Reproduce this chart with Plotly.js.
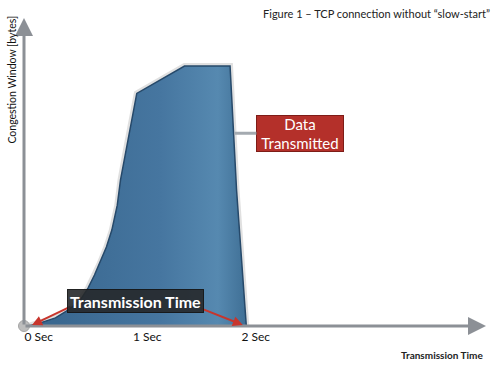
<!DOCTYPE html>
<html>
<head>
<meta charset="utf-8">
<script src="https://cdn.plot.ly/plotly-3.0.1.min.js"></script>
<style>html,body{margin:0;padding:0;background:#fff;}#chart{width:500px;height:366px;}</style>
</head>
<body>
<div id="chart"></div>
<script>
// Data (time in seconds, congestion window in relative units, peak = 100)
var timeSec = [0.04, 0.15, 0.29, 0.42, 0.52, 0.59, 0.65, 0.70, 0.76, 0.81, 0.86, 0.89, 0.94, 0.99, 1.04, 1.48, 1.90, 1.96, 2.05];
var cwnd    = [0,    1.2,  3.1,  6.5,  10,   14.6, 19.6, 24.2, 30.4, 36.9, 46.5, 56.2, 67.7, 79.2, 89.5, 100,  100,  52.3, 0];
var tickVals = [0, 1, 2];
var tickText = ['0 Sec', '1 Sec', '2 Sec'];
var xMax = 4.26, yMax = 118.5;

var shadow = {
  x: timeSec, y: cwnd, type: 'scatter', mode: 'lines', fill: 'none',
  line: {color: 'rgba(0,0,0,0.12)', width: 6}, hoverinfo: 'skip', showlegend: false
};
var area = {
  x: timeSec, y: cwnd, type: 'scatter', mode: 'lines', fill: 'toself',
  fillcolor: '#44739a',
  fillgradient: {type: 'horizontal', start: 0.3, stop: 2.05,
    colorscale: [[0, '#3a6890'], [0.55, '#4676a0'], [0.85, '#5689b0'], [1, '#3f6f95']]},
  line: {color: '#26496a', width: 1.5}, hoverinfo: 'skip', showlegend: false
};
var origin = {
  x: [0], y: [0], type: 'scatter', mode: 'markers', cliponaxis: false,
  marker: {size: 11, color: '#bdbdbd', line: {color: '#a5a5a5', width: 1}},
  hoverinfo: 'skip', showlegend: false
};

var font = 'Lato, "Open Sans", sans-serif';
var layout = {
  width: 500, height: 366,
  margin: {l: 24, r: 14, t: 18, b: 40},
  paper_bgcolor: '#ffffff', plot_bgcolor: '#ffffff',
  showlegend: false,
  title: {text: 'Figure 1 \u2013 TCP connection without \u201cslow-start\u201d',
    x: 0.98, xanchor: 'right', y: 0.962, yanchor: 'middle',
    font: {family: font, size: 11, color: '#222'}},
  xaxis: {range: [0, xMax], showgrid: false, zeroline: false, showline: false,
    tickvals: tickVals, ticktext: tickText, ticks: 'outside', ticklen: 6, tickcolor: 'rgba(0,0,0,0)',
    ticklabelposition: 'outside right',
    tickfont: {family: font, size: 12, color: '#111'}, fixedrange: true},
  yaxis: {range: [0, yMax], showgrid: false, zeroline: false, showline: false,
    showticklabels: false, ticks: '', fixedrange: true},
  annotations: [
    // axes arrows
    {x: xMax, y: 0, ax: 0, ay: 0, axref: 'x', ayref: 'y', xref: 'x', yref: 'y', text: '',
      showarrow: true, arrowhead: 2, arrowsize: 1.2, arrowwidth: 3, arrowcolor: '#8c9096'},
    {x: 0, y: yMax, ax: 0, ay: 0, axref: 'x', ayref: 'y', xref: 'x', yref: 'y', text: '',
      showarrow: true, arrowhead: 2, arrowsize: 1.2, arrowwidth: 3, arrowcolor: '#8c9096'},
    // axis titles
    {xref: 'paper', yref: 'paper', x: -0.026, y: 0.80, xanchor: 'center', yanchor: 'middle',
      text: 'Congestion Window [bytes]',
      textangle: -90, showarrow: false, font: {family: font, size: 10.5, color: '#111'}},
    {xref: 'paper', yref: 'paper', x: 0.998, xanchor: 'right', y: -0.094, yanchor: 'middle',
      text: '<b>Transmission Time</b>', showarrow: false, font: {family: font, size: 10, color: '#222'}},
    // Data Transmitted callout
    {x: 1.94, y: 74.2, ax: 2.544, ay: 74.2, axref: 'x', ayref: 'y', xref: 'x', yref: 'y',
      text: 'Data<br>Transmitted', showarrow: true, arrowhead: 0, arrowwidth: 3, arrowcolor: '#a4aab0',
      bgcolor: '#b4302a', bordercolor: '#7e1c17', borderwidth: 1, width: 84, height: 33,
      font: {family: font, size: 15, color: '#ffffff'}},
    // Transmission time arrows
    {x: 0.074, y: 0.4, ax: 0.442, ay: 7.7, axref: 'x', ayref: 'y', xref: 'x', yref: 'y', text: '',
      showarrow: true, arrowhead: 2, arrowsize: 1, arrowwidth: 2, arrowcolor: '#c8352c'},
    {x: 2.018, y: 0.4, ax: 1.622, ay: 6.9, axref: 'x', ayref: 'y', xref: 'x', yref: 'y', text: '',
      showarrow: true, arrowhead: 2, arrowsize: 1, arrowwidth: 2, arrowcolor: '#c8352c'},
    {x: 1.032, y: 9.6, xref: 'x', yref: 'y', text: '<b>Transmission Time</b>', showarrow: false,
      bgcolor: 'rgba(38,40,42,0.9)', bordercolor: 'rgba(20,20,20,0.9)', borderwidth: 1,
      width: 133, height: 20, font: {family: font, size: 16, color: '#ffffff'}}
  ]
};

Plotly.newPlot('chart', [shadow, area, origin], layout, {displayModeBar: false, staticPlot: true});
</script>
</body>
</html>
